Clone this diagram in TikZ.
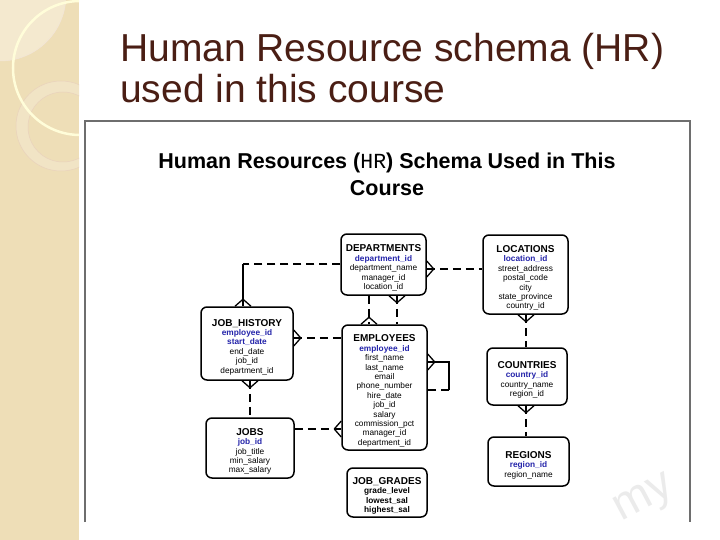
\documentclass[tikz,border=0pt]{standalone}
\usepackage{fontspec}
\setmainfont{Liberation Sans}
\setmonofont{Liberation Mono}
\usetikzlibrary{calc}
\definecolor{stripe}{RGB}{238,222,183}
\definecolor{stripelight}{RGB}{244,233,207}
\definecolor{titlebrown}{RGB}{74,30,20}
\definecolor{keyblue}{RGB}{36,36,170}
\definecolor{framegray}{RGB}{110,110,110}
\tikzset{
  entity/.style={draw, line width=1.5pt, rounded corners=6pt, align=center, inner sep=0pt,
    font=\fontsize{8.3}{9.4}\selectfont},
  opt/.style={line width=1.6pt, dash pattern=on 8pt off 5pt},
  mand/.style={line width=1.6pt},
  foot/.style={line width=1.3pt, line join=round}
}
\newcommand{\ename}[1]{{\fontsize{10}{10}\selectfont\bfseries\rule{0pt}{14pt}#1}}
\newcommand{\ekey}[1]{{\color{keyblue}\bfseries #1}}
% crow's foot: #1 point on the border, (#2,#3) direction out of the entity
\newcommand{\crowfoot}[3]{%
  \draw[foot] ($(#1)+(#3*8,#2*8)$) -- ($(#1)+(#2*7,#3*7)$) -- ($(#1)-(#3*8,#2*8)$);}
\begin{document}
\begin{tikzpicture}[x=1pt, y=-1pt, line cap=butt]
  \useasboundingbox (0,0) rectangle (720,540);
  \fill[white] (0,0) rectangle (720,540);
  % side stripe
  \fill[stripe] (0,0) rectangle (79,540);
  \begin{scope}
    \clip (0,0) rectangle (79,540);
    \fill[stripelight] (0,-5) circle (66);
    \fill[stripelight!60!stripe, even odd rule] (61,126) circle (45) (63,127) circle (35);
    \draw[brown!35, line width=0.5pt] (61,126) circle (45) (63,127) circle (35);
    \draw[brown!20, line width=0.5pt] (0,-5) circle (66);
    \draw[white!85!yellow, line width=2.5pt] (80,68) circle (67);
  \end{scope}
  % slide title
  \node[anchor=base west, inner sep=0pt, text=titlebrown, font=\fontsize{39}{40}\selectfont] (t1) at (120,62) {Human Resource schema (HR)};
  \node[anchor=base west, inner sep=0pt, text=titlebrown, font=\fontsize{39}{40}\selectfont] (t2) at (120,103) {used in this course};
  % picture frame
  \draw[framegray, line width=1.2pt] (85,522) -- (85,121) -- (690,121) -- (690,522);
  \node[text=black!8, font=\fontsize{46}{46}\selectfont, rotate=28] (wm) at (645,500) {my};
  \node[anchor=base, inner sep=0pt, font=\fontsize{21.5}{22}\selectfont\bfseries] (h1) at (387,169) {Human Resources ({\mdseries\ttfamily HR}) Schema Used in This};
  \node[anchor=base, inner sep=0pt, font=\fontsize{21.5}{22}\selectfont\bfseries] (h2) at (387,196) {Course};
  % entities
  \node[entity, minimum width=85pt, minimum height=61pt] (dept) at (383.5,264.5)
    {\ename{DEPARTMENTS}\\ \ekey{department\_id}\\ department\_name\\ manager\_id\\ location\_id};
  \node[entity, minimum width=85pt, minimum height=79pt] (loc) at (525.5,274.5)
    {\ename{LOCATIONS}\\ \ekey{location\_id}\\ street\_address\\ postal\_code\\ city\\ state\_province\\ country\_id};
  \node[entity, minimum width=80pt, minimum height=57pt] (cty) at (527,376.5)
    {\ename{COUNTRIES}\\ \ekey{country\_id}\\ country\_name\\ region\_id};
  \node[entity, minimum width=81pt, minimum height=49pt] (reg) at (528.5,461.5)
    {\ename{REGIONS}\\ \ekey{region\_id}\\ region\_name};
  \node[entity, minimum width=92pt, minimum height=73pt] (jh) at (247,343.5)
    {\ename{JOB\_HISTORY}\\ \ekey{employee\_id}\\ \ekey{start\_date}\\ end\_date\\ job\_id\\ department\_id};
  \node[entity, minimum width=85pt, minimum height=125pt] (emp) at (384.5,387.5)
    {\ename{EMPLOYEES}\\ \ekey{employee\_id}\\ first\_name\\ last\_name\\ email\\ phone\_number\\ hire\_date\\ job\_id\\ salary\\ commission\_pct\\ manager\_id\\ department\_id};
  \node[entity, minimum width=88pt, minimum height=60pt] (jobs) at (250,448)
    {\ename{JOBS}\\ \ekey{job\_id}\\ job\_title\\ min\_salary\\ max\_salary};
  \node[entity, minimum width=80pt, minimum height=49pt] (jg) at (387,492.5)
    {\ename{JOB\_GRADES}\\ \bfseries grade\_level\\ \bfseries lowest\_sal\\ \bfseries highest\_sal};
  % rows and columns of the connectors
  \coordinate (colJH) at (243,0);
  \coordinate (colA) at (369,0);
  \coordinate (colB) at (397,0);
  \coordinate (colL) at (526,0);
  \coordinate (colJ) at (250,0);
  \coordinate (colS) at (449,0);
  \coordinate (rowDJ) at (0,264);
  \coordinate (rowJE) at (0,338);
  \coordinate (rowDL) at (0,269);
  \coordinate (rowS1) at (0,362);
  \coordinate (rowS2) at (0,390);
  \coordinate (rowJB) at (0,429);
  % relationships
  \draw[opt] (dept.west |- rowDJ) -- (colJH |- rowDJ) coordinate (b1);
  \draw[mand] (b1) -- (b1 |- jh.north) coordinate (f1);
  \crowfoot{f1}{0}{-1}
  \draw[opt] (jh.east |- rowJE) coordinate (f2) -- (emp.west |- rowJE);
  \crowfoot{f2}{1}{0}
  \draw[opt] (dept.south -| colA) -- (emp.north -| colA) coordinate (f3);
  \crowfoot{f3}{0}{-1}
  \draw[opt] (dept.south -| colB) coordinate (f4) -- (emp.north -| colB);
  \crowfoot{f4}{0}{1}
  \draw[opt] (dept.east |- rowDL) coordinate (f5) -- (loc.west |- rowDL);
  \crowfoot{f5}{1}{0}
  \draw[opt] (loc.south -| colL) coordinate (f6) -- (cty.north -| colL);
  \crowfoot{f6}{0}{1}
  \draw[opt] (cty.south -| colL) coordinate (f7) -- (reg.north -| colL);
  \crowfoot{f7}{0}{1}
  \draw[mand] (emp.east |- rowS1) coordinate (f8) -- (colS |- rowS1) -- (colS |- rowS2);
  \draw[opt] (colS |- rowS2) -- (emp.east |- rowS2);
  \crowfoot{f8}{1}{0}
  \draw[opt] (jobs.east |- rowJB) -- (emp.west |- rowJB) coordinate (f9);
  \crowfoot{f9}{-1}{0}
  \draw[opt] (jh.south -| colJ) coordinate (f10) -- (jobs.north -| colJ);
  \crowfoot{f10}{0}{1}
\end{tikzpicture}
\end{document}
